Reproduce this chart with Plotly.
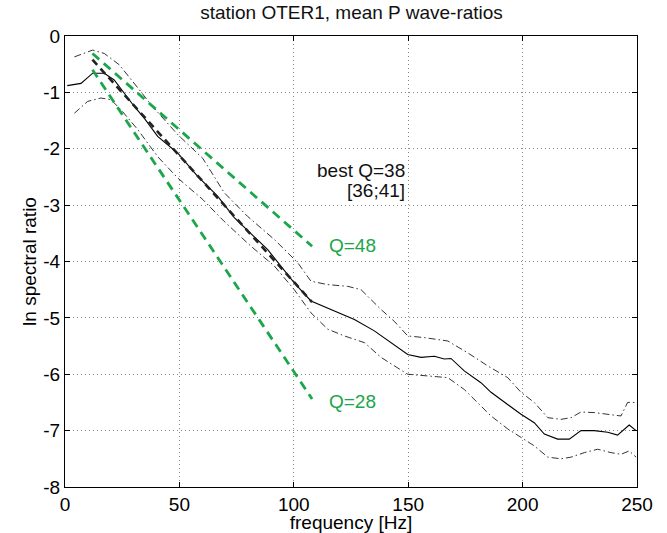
import plotly.graph_objects as go

mean_f = [1, 2.6, 7, 12.1, 17.2, 21.5, 30.3, 34.7, 40.5, 49.3, 58, 66.7, 74, 88.6, 100.2, 107.5, 117.7, 126.5,
          135.2, 143.9, 149.8, 155.6, 161.4, 165.8, 168.7, 174.5, 181.8, 186.2, 193.5, 199.3, 205.1, 209.5,
          215.3, 220.4, 225.5, 231.3, 237.2, 241.5, 246.6, 249.6]
mean_y = [-0.88, -0.87, -0.84, -0.66, -0.66, -0.78, -1.25, -1.46, -1.78, -2.08, -2.49, -2.84, -3.22, -3.79,
          -4.38, -4.70, -4.88, -5.03, -5.23, -5.48, -5.65, -5.70, -5.68, -5.73, -5.72, -5.94, -6.15, -6.32,
          -6.53, -6.71, -6.86, -7.06, -7.15, -7.15, -7.0, -7.0, -7.03, -7.08, -6.9, -7.0]

upper_f = [4.1, 12.1, 17.2, 23.7, 33.2, 37.6, 49.3, 60.2, 69.6, 79.8, 91.5, 101.7, 107.5, 114.8, 123.5, 129.4,
           138.1, 143.9, 149.8, 157, 167.3, 176, 184.7, 193.5, 199.3, 205.1, 211, 216.8, 221.2, 225.5, 231.3,
           237.2, 243, 245.9, 249.6]
upper_y = [-0.37, -0.25, -0.31, -0.51, -0.99, -1.22, -1.75, -2.17, -2.78, -3.2, -3.61, -4.02, -4.35, -4.41,
           -4.44, -4.50, -4.85, -5.06, -5.32, -5.35, -5.41, -5.62, -5.85, -6.06, -6.32, -6.5, -6.77, -6.8,
           -6.77, -6.67, -6.68, -6.71, -6.74, -6.5, -6.5]

lower_f = [4.1, 9.9, 15.7, 20.1, 24.5, 31.8, 40.5, 49.3, 60.2, 69.6, 81.3, 91.5, 100.2, 107.5, 114.8, 122.1,
           130.9, 138.1, 143.9, 149.8, 158.5, 167.3, 174.5, 181.8, 186.2, 193.5, 199.3, 205.1, 211, 216.8,
           221.2, 227, 232.8, 238.6, 243, 246.6, 249.6]
lower_y = [-1.37, -1.16, -1.10, -1.13, -1.31, -1.66, -2.14, -2.52, -2.9, -3.29, -3.73, -4.08, -4.5, -4.91,
           -5.2, -5.32, -5.44, -5.70, -5.85, -6.0, -6.03, -6.06, -6.27, -6.56, -6.74, -6.97, -7.12, -7.27,
           -7.47, -7.5, -7.47, -7.39, -7.33, -7.39, -7.42, -7.36, -7.47]

fit_f = [12, 108]
best_y = [-0.42, -4.72]
q48_y = [-0.31, -3.73]
q28_y = [-0.6, -6.44]

x_ticks = [0, 50, 100, 150, 200, 250]
y_ticks = [0, -1, -2, -3, -4, -5, -6, -7, -8]

GREEN = "#1aa64a"
FONT = "Liberation Sans, Arial, sans-serif"
FS = 19

fig = go.Figure()
bound_dash = "7px,3px,1.5px,3px"
fig.add_trace(go.Scatter(x=upper_f, y=upper_y, mode="lines",
                         line=dict(color="black", width=0.8, dash=bound_dash)))
fig.add_trace(go.Scatter(x=lower_f, y=lower_y, mode="lines",
                         line=dict(color="black", width=0.8, dash=bound_dash)))
fig.add_trace(go.Scatter(x=mean_f, y=mean_y, mode="lines",
                         line=dict(color="black", width=1.1)))
fig.add_trace(go.Scatter(x=fit_f, y=best_y, mode="lines",
                         line=dict(color="#222222", width=2.6, dash="7px,5px")))
fig.add_trace(go.Scatter(x=fit_f, y=q48_y, mode="lines",
                         line=dict(color=GREEN, width=2.8, dash="9px,6px")))
fig.add_trace(go.Scatter(x=fit_f, y=q28_y, mode="lines",
                         line=dict(color=GREEN, width=2.8, dash="9px,6px")))

fig.add_annotation(x=149.5, y=-2.38, text="best Q=38", showarrow=False, xanchor="right", yanchor="middle",
                   font=dict(size=FS, color="#111111", family=FONT))
fig.add_annotation(x=149.5, y=-2.74, text="[36;41]", showarrow=False, xanchor="right", yanchor="middle",
                   font=dict(size=FS, color="#111111", family=FONT))
fig.add_annotation(x=114.5, y=-3.72, text="Q=48", showarrow=False, xanchor="left", yanchor="middle",
                   font=dict(size=FS, color=GREEN, family=FONT))
fig.add_annotation(x=114.5, y=-6.48, text="Q=28", showarrow=False, xanchor="left", yanchor="middle",
                   font=dict(size=FS, color=GREEN, family=FONT))

axis_common = dict(showline=True, linecolor="black", linewidth=1.2, mirror="ticks",
                   ticks="inside", ticklen=5, tickcolor="black", tickwidth=1,
                   showgrid=True, gridcolor="#8a8a8a", griddash="1px,3px", gridwidth=1,
                   zeroline=False, automargin=False,
                   tickfont=dict(size=FS, color="black", family=FONT))

fig.update_layout(
    width=667, height=533,
    margin=dict(l=65, r=30, t=36, b=46),
    paper_bgcolor="white", plot_bgcolor="white",
    showlegend=False,
    font=dict(family=FONT, color="black"),
    title=dict(text="station OTER1, mean P wave-ratios", x=0.527, xanchor="center",
               y=0.977, yanchor="middle", automargin=False,
               font=dict(size=FS, color="#111111", family=FONT)),
    xaxis=dict(range=[0, 250], tickvals=x_ticks, ticktext=[str(v) for v in x_ticks],
               title=dict(text="frequency [Hz]", font=dict(size=FS, color="black"), standoff=2),
               **axis_common),
    yaxis=dict(range=[-8, 0], tickvals=y_ticks, ticktext=[str(v) for v in y_ticks],
               title=dict(text="ln spectral ratio", font=dict(size=FS, color="black"), standoff=1),
               **axis_common),
)

fig.write_html("out.html", config={"displayModeBar": False},
               post_script="document.body.style.margin='0';document.body.style.padding='0';")
